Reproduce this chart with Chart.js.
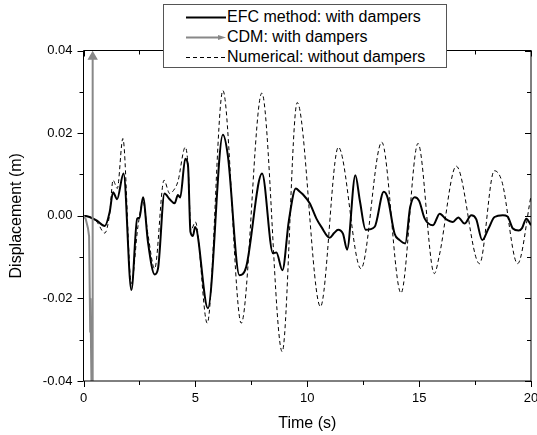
<!DOCTYPE html>
<html>
<head>
<meta charset="utf-8">
<script src="https://cdn.jsdelivr.net/npm/chart.js@4.4.1/dist/chart.umd.min.js"></script>
<style>
  html, body { margin: 0; padding: 0; background: #fff; }
  #wrap { position: relative; width: 537px; height: 435px; }
  #legend {
    position: absolute; left: 163px; top: 4px; width: 284px; height: 64px;
    box-sizing: border-box; border: 1px solid #555; background: #fff;
    font: 16px "Liberation Sans", Arial, sans-serif; color: #000;
    padding-top: 1.5px;
  }
  #legend .row { position: relative; height: 20px; line-height: 20px; padding-left: 63px; white-space: nowrap; }
  #legend svg { position: absolute; left: 22px; top: 0; }
</style>
</head>
<body>
<div id="wrap">
  <canvas id="chart" width="537" height="435"></canvas>
  <div id="legend">
    <div class="row"><svg width="40" height="20"><line x1="0" y1="10.5" x2="40" y2="10.5" stroke="#000" stroke-width="2"/></svg>EFC method: with dampers</div>
    <div class="row"><svg width="40" height="20"><line x1="0" y1="10.5" x2="33" y2="10.5" stroke="#888" stroke-width="2"/><polygon points="32,8 40,10.5 32,13" fill="#888"/></svg>CDM: with dampers</div>
    <div class="row"><svg width="40" height="20"><line x1="0" y1="10.5" x2="40" y2="10.5" stroke="#000" stroke-width="1" stroke-dasharray="4,3"/></svg>Numerical: without dampers</div>
  </div>
</div>
<script>
// EFC method, with dampers (black solid)
const efcTime = [0, 0.27, 0.6, 0.95, 1.17, 1.32, 1.5, 1.79, 2.14, 2.4, 2.5, 2.66, 2.88, 3.18, 3.33, 3.62, 3.85, 4.07, 4.22, 4.32,
  4.55, 4.67, 4.78, 4.89, 4.99, 5.56, 6.23, 6.45, 6.97, 7.27, 7.98, 8.47, 8.62, 8.89, 9.18, 9.49, 9.67, 9.8, 10.11, 10.41,
  10.63, 11.0, 11.2, 11.38, 11.6, 11.78, 12.15, 12.35, 12.61, 13.01, 13.42, 13.6, 13.9, 14.13, 14.38, 14.6, 14.8, 15.0, 15.25, 15.62,
  15.92, 16.2, 16.51, 16.75, 17.03, 17.33, 17.55, 17.82, 18.1, 18.37, 18.74, 18.95, 19.19, 19.45, 19.6, 19.79, 20];
const efcDisp = [0, -0.0003, -0.0012, -0.0025, 0.0009, 0.0057, 0.004, 0.0102, -0.018, -0.0007, -0.0005, 0.0045, -0.0063, -0.0142, -0.0128, 0.0054, 0.004, 0.003, 0.005, 0.0044,
  0.0138, 0.0122, -0.0039, -0.0049, -0.0027, -0.0224, 0.0196, 0.0146, -0.0144, -0.0124, 0.0102, -0.0091, -0.0089, -0.0132, -0.0011, 0.0066, 0.0058, 0.0052, 0.003, -0.0007,
  -0.0027, -0.0053, -0.0042, -0.0034, -0.0044, -0.0082, 0.0098, 0.0037, -0.0034, -0.0027, 0.0058, 0.0042, -0.0043, -0.0059, -0.0067, 0.0021, 0.0045, 0.0036, -0.0007, -0.0023,
  0.0005, -0.0008, -0.0015, -0.0004, -0.0019, 0.0001, -0.0008, -0.0059, -0.0031, -0.0003, 0.0001, -0.0002, -0.0031, -0.0036, -0.003, -0.0007, -0.0023];

// CDM, with dampers (grey, blows up right after the start)
const cdmTime = [0, 0.1, 0.2, 0.25, 0.3, 0.31, 0.4, 0.41];
const cdmDisp = [0, -0.0008, -0.003, -0.005, -0.028, -0.02, -0.06, 0.0385];

// Numerical, without dampers (dashed)
const numTime = [0, 0.3, 0.6, 0.95, 1.17, 1.32, 1.51, 1.76, 2.14, 2.43, 2.66, 2.88, 3.18, 3.6, 3.85, 4.07, 4.22, 4.55, 4.68, 4.8,
  5.0, 5.53, 6.23, 7.05, 7.97, 8.88, 9.55, 10.59, 11.39, 12.4, 13.33, 14.19, 14.95, 15.68, 15.9, 16.66, 17.7, 18.36, 18.7, 19.4, 20];
const numDisp = [0, -0.0003, -0.0015, -0.0042, 0.0005, 0.0086, 0.0066, 0.0187, -0.0164, -0.0027, 0.0033, -0.0045, -0.0128, 0.0086, 0.0054, 0.0065, 0.0083, 0.0166, 0.0115, -0.0035,
  -0.0015, -0.026, 0.0303, -0.026, 0.0297, -0.0329, 0.0274, -0.022, 0.0166, -0.0128, 0.0178, -0.0187, 0.0175, -0.014, -0.0097, 0.012, -0.0116, 0.0109, 0.0083, -0.0116, 0.0048];

const xTicks = [0, 5, 10, 15, 20];
const yTicks = [-0.04, -0.02, 0, 0.02, 0.04];

const pairs = (xs, ys) => xs.map((x, i) => ({ x, y: ys[i] }));

// Origin-style box frame: outward ticks on bottom/left, inward on top/right
const frameTicks = {
  id: "frameTicks",
  afterDatasetsDraw(chart) {
    const { ctx, chartArea: a, scales: { x, y } } = chart;
    ctx.save();
    ctx.strokeStyle = "#000";
    ctx.lineWidth = 1;
    ctx.beginPath();
    ctx.rect(a.left, a.top, a.right - a.left, a.bottom - a.top);
    for (let t = 0; t <= 20; t += 2.5) {
      const px = Math.round(x.getPixelForValue(t)) + 0.5;
      const len = t % 5 === 0 ? 6 : 4;
      ctx.moveTo(px, a.bottom); ctx.lineTo(px, a.bottom + len);
      ctx.moveTo(px, a.top); ctx.lineTo(px, a.top + len);
    }
    for (let k = -4; k <= 4; k += 1) {
      const py = Math.round(y.getPixelForValue(k / 100)) + 0.5;
      const len = k % 2 === 0 ? 6 : 4;
      ctx.moveTo(a.left, py); ctx.lineTo(a.left - len, py);
      ctx.moveTo(a.right, py); ctx.lineTo(a.right - len, py);
    }
    ctx.stroke();
    ctx.restore();
  },
};

const font = { family: "'Liberation Sans', Arial, sans-serif", size: 13 };

new Chart(document.getElementById("chart"), {
  type: "line",
  data: {
    datasets: [
      {
        label: "EFC method: with dampers",
        data: pairs(efcTime, efcDisp),
        borderColor: "#000",
        borderWidth: 2,
        pointRadius: 0,
        cubicInterpolationMode: "monotone",
        order: 1,
      },
      {
        label: "CDM: with dampers",
        data: pairs(cdmTime, cdmDisp),
        borderColor: "#888",
        backgroundColor: "#888",
        borderWidth: 2,
        pointStyle: "triangle",
        pointRadius: cdmTime.map((_, i) => (i === cdmTime.length - 1 ? 4 : 0)),
        tension: 0,
        order: 0,
      },
      {
        label: "Numerical: without dampers",
        data: pairs(numTime, numDisp),
        borderColor: "#000",
        borderWidth: 1,
        borderDash: [4, 3],
        pointRadius: 0,
        cubicInterpolationMode: "monotone",
        order: 2,
      },
    ],
  },
  options: {
    responsive: false,
    animation: false,
    events: [],
    layout: { padding: { top: 50.5, right: 5.5, left: 0, bottom: 0 } },
    plugins: { legend: { display: false }, tooltip: { enabled: false } },
    scales: {
      x: {
        type: "linear",
        min: 0,
        max: 20,
        afterBuildTicks: (s) => { s.ticks = xTicks.map((value) => ({ value })); },
        afterFit: (s) => { s.height = 54; s.paddingLeft = 0; s.paddingRight = 0; },
        grid: { display: false, drawTicks: false },
        border: { display: false },
        ticks: { color: "#000", font, padding: 10, maxRotation: 0, callback: (v) => String(v) },
        title: { display: true, text: "Time (s)", color: "#000", font: { ...font, size: 16 }, padding: { top: 0, bottom: 1.5 } },
      },
      y: {
        type: "linear",
        min: -0.04,
        max: 0.04,
        afterBuildTicks: (s) => { s.ticks = yTicks.map((value) => ({ value })); },
        afterFit: (s) => { s.width = 83.5; s.paddingTop = 0; s.paddingBottom = 0; },
        grid: { display: false, drawTicks: false },
        border: { display: false },
        ticks: { color: "#000", font, padding: 11, callback: (v) => (Math.abs(v) < 1e-9 ? "0.00" : v.toFixed(2)) },
        title: { display: true, text: "Displacement (m)", color: "#000", font: { ...font, size: 16 }, padding: { top: 7, bottom: 0 } },
      },
    },
  },
  plugins: [frameTicks],
});
</script>
</body>
</html>
